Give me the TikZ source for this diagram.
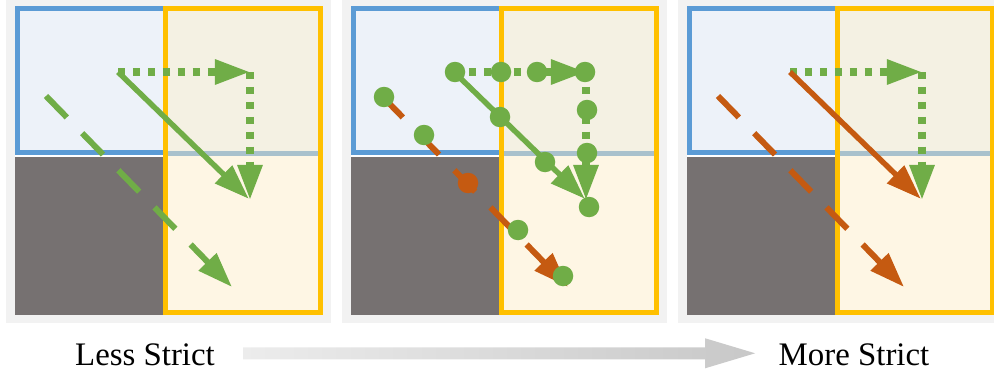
\documentclass[tikz,border=0pt]{standalone}
\usepackage{fontspec}
\setmainfont{Liberation Serif}
\usetikzlibrary{arrows.meta}

\definecolor{panelgray}{HTML}{F2F2F2}
\definecolor{cellblue}{HTML}{EDF2F9}
\definecolor{cellmix}{HTML}{F4F1E3}
\definecolor{cellcream}{HTML}{FEF6E4}
\definecolor{cellgray}{HTML}{767171}
\definecolor{lineblue}{HTML}{5B9BD5}
\definecolor{linemix}{HTML}{A9C1CC}
\definecolor{lineorange}{HTML}{FFC000}
\definecolor{okgreen}{HTML}{70AD47}
\definecolor{rust}{HTML}{C55A11}
\definecolor{arrowlight}{HTML}{EEEEEE}
\definecolor{arrowdark}{HTML}{C8C8C8}

\begin{document}
\begin{tikzpicture}[x=0.02cm,y=-0.02cm,
		headtip/.style={-{Triangle[length=20pt,width=13.5pt]}},
		solidarrow/.style={headtip, line width=3.1pt},
		dashedarrow/.style={headtip, line width=3.4pt, dash pattern=on 17pt off 12.5pt},
		dottedarrow/.style={headtip, line width=4pt, dash pattern=on 4pt off 4.5pt},
		endtext/.style={font=\fontsize{18.7}{22}\selectfont, inner sep=0pt, anchor=base}
	]
	\useasboundingbox (0,0) rectangle (994,372);
	
	% the three panels: solid / dashed colours change
	\foreach \n/\ox/\sc/\dc in {1/0/okgreen/okgreen, 2/336/okgreen/rust, 3/672/rust/rust} {
		\begin{scope}[shift={(\ox,0)}]
			\fill [panelgray] (6,0) rectangle (331,323);
			\fill [cellblue] (15,6) rectangle (165,155);
			\fill [cellmix] (165,6) rectangle (323,155);
			\fill [cellcream] (165,155) rectangle (323,315);
			\fill [white] (15,154) rectangle (165,157);
			\fill [cellgray] (15,156.5) rectangle (165,315);
			
			\draw [lineblue, line width=2.8pt] (165,152.5) -- (17.5,152.5) -- (17.5,8.5) -- (165,8.5);
			\draw [linemix, line width=2.8pt] (165,153.5) -- (321,153.5);
			\draw [lineorange, line width=2.8pt] (165.5,8.5) rectangle (320.5,312.5);
			
			\coordinate (start\n) at (118,72);
			\coordinate (corner\n) at (250,72);
			\coordinate (goal\n) at (250,200);
			\coordinate (from\n) at (46,96);
			\coordinate (to\n) at (232,287);
			
			\draw [dashedarrow, \dc] (from\n) -- (to\n);
			\draw [dottedarrow, okgreen] (start\n) -- (corner\n);
			\draw [dottedarrow, okgreen] (corner\n) -- (goal\n);
			\draw [solidarrow, \sc, shorten >=1pt] (start\n) -- (goal\n);
		\end{scope}
	}
	
	% sample points in the middle panel
	\begin{scope}[shift={(336,0)}]
		\foreach \px/\py in {119/72, 165/72, 201/72, 249/72, 251/110, 251/153, 253/207,
			164/117, 209/162, 48/97, 88/135, 182/230, 227/276}
		\fill [okgreen] (\px,\py) circle [radius=0.205cm];
		\fill [rust] (132,183) circle [radius=0.205cm];
	\end{scope}
	
	\node [endtext] (less) at (145,365) {Less Strict};
	\node [endtext] (more) at (854,365) {More Strict};
	
	\shade [left color=arrowlight, right color=arrowdark]
		(less.east) ++(28,-7) -- ++(462,0) -- ++(0,-9) -- ++(50,15) -- ++(-50,15)
		-- ++(0,-9) -- ++(-462,0) -- cycle;
\end{tikzpicture}
\end{document}
